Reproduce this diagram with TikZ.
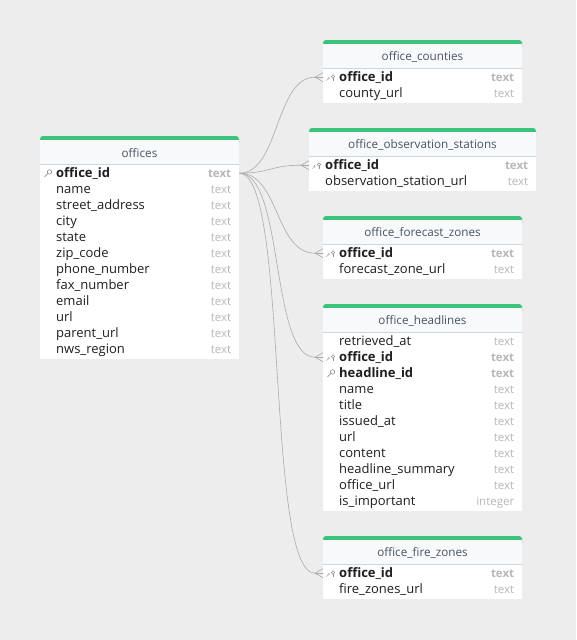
\documentclass[tikz,border=0pt]{standalone}
\usepackage{fontspec}
\setmainfont{Open Sans}
\usetikzlibrary{calc}

\definecolor{canvas}{HTML}{EDEDED}
\definecolor{ergreen}{HTML}{3DC27A}
\definecolor{erhdr}{HTML}{F7F9FB}
\definecolor{ersepc}{HTML}{C8D5E2}
\definecolor{titlec}{HTML}{4A5562}
\definecolor{namec}{HTML}{1F1F1F}
\definecolor{typec}{HTML}{B8B8B8}
\definecolor{linec}{HTML}{ABABAB}
\definecolor{iconc}{HTML}{8F8F8F}

\tikzset{
  erhead/.style={inner sep=0, text=titlec, font=\fontsize{11.7}{14}\selectfont},
  ername/.style={anchor=west, inner sep=0, text height=9pt, text depth=3pt, text=namec, font=\fontsize{13}{15}\selectfont},
  ertype/.style={anchor=east, inner sep=0, text height=9pt, text depth=3pt, text=typec, font=\fontsize{11.5}{13}\selectfont},
  ercell/.style={minimum height=16pt, inner sep=0, anchor=north west},
  pk/.style={font=\fontsize{13}{15}\selectfont\bfseries},
  fk/.style={font=\fontsize{13}{15}\selectfont\bfseries},
  pl/.style={},
  pkt/.style={font=\fontsize{11.5}{13}\selectfont\bfseries},
  fkt/.style={font=\fontsize{11.5}{13}\selectfont\bfseries},
  plt/.style={},
  conn/.style={draw=linec, line width=0.6pt},
  icon/.style={draw=iconc, line width=0.6pt},
  iconlight/.style={draw=typec, line width=0.5pt},
}

% table frame: id, left x, top y, width, number of rows, title
\newcommand{\ertable}[6]{%
  \def\erx{#2}\def\ertop{#3}\def\erw{#4}%
  \pgfmathsetmacro\erbot{#3+31+16*#5}%
  \fill[ergreen, rounded corners=3pt] (#2,#3) rectangle (#2+#4,#3+10);
  \fill[erhdr] (#2,#3+4) rectangle (#2+#4,#3+28);
  \fill[white] (#2,#3+28) rectangle (#2+#4,\erbot);
  \draw[ersepc, line width=0.8pt] (#2,#3+28) -- (#2+#4,#3+28);
  \node[erhead] (#1) at (#2+#4/2,#3+17) {#6};
}

% key icons
\newcommand{\ericonpk}[1]{%
  \draw[icon] ($(#1.west)+(9.5,-0.3)$) circle (2.2pt);
  \draw[icon] ($(#1.west)+(8,1.2)$) -- ($(#1.west)+(4.5,4.7)$);
}
\newcommand{\ericonfk}[1]{%
  \draw[iconlight] ($(#1.west)+(5.6,2.1)$) circle (0.9pt);
  \draw[iconlight] ($(#1.west)+(4.9,2.8)$) -- ($(#1.west)+(3.2,4.5)$);
  \draw[icon] ($(#1.west)+(10,0.3)$) circle (1.7pt);
  \draw[icon] ($(#1.west)+(10,2)$) -- ($(#1.west)+(10,4.7)$);
}
\newcommand{\ericonpl}[1]{}

% row: table id, index, name, type, kind (pk, fk, pl)
\newcommand{\errow}[5]{%
  \node[ercell, minimum width=\erw pt] (#1-#2) at (\erx,{\ertop+28+16*(#2-1)}) {};
  \node[ername, #5] (#1-#2-n) at ($(#1-#2.west)+(16,2)$) {#3};
  \node[ertype, #5t] (#1-#2-t) at ($(#1-#2.east)+(-8,2)$) {#4};
  \csname ericon#5\endcsname{#1-#2}
}

% connector from parent row to child row, crow's foot at the child
\newcommand{\erlink}[3]{%
  \coordinate (#2-cf) at ($(#2.west)+(-8,1)$);
  \draw[conn] ($(#1.east)+(0,1)$) .. controls ($(#1.east)+(#3,1)$) and ($(#2-cf)+(-#3,0)$) .. (#2-cf);
  \draw[conn] ($(#2.west)+(0,-3.5)$) -- (#2-cf) -- ($(#2.west)+(0,5.5)$);
  \draw[conn] (#2-cf) -- ($(#2.west)+(0,1)$);
}

\begin{document}
\begin{tikzpicture}[x=1pt, y=-1pt]
  \fill[canvas] (0,0) rectangle (576,640);
  \useasboundingbox (0,0) rectangle (576,640);

  % offices
  \ertable{off}{40}{136}{199}{12}{offices}
  \errow{off}{1}{office\_id}{text}{pk}
  \errow{off}{2}{name}{text}{pl}
  \errow{off}{3}{street\_address}{text}{pl}
  \errow{off}{4}{city}{text}{pl}
  \errow{off}{5}{state}{text}{pl}
  \errow{off}{6}{zip\_code}{text}{pl}
  \errow{off}{7}{phone\_number}{text}{pl}
  \errow{off}{8}{fax\_number}{text}{pl}
  \errow{off}{9}{email}{text}{pl}
  \errow{off}{10}{url}{text}{pl}
  \errow{off}{11}{parent\_url}{text}{pl}
  \errow{off}{12}{nws\_region}{text}{pl}

  % office_counties
  \ertable{cty}{323}{40}{199}{2}{office\_counties}
  \errow{cty}{1}{office\_id}{text}{fk}
  \errow{cty}{2}{county\_url}{text}{pl}

  % office_observation_stations
  \ertable{obs}{309}{128}{227}{2}{office\_observation\_stations}
  \errow{obs}{1}{office\_id}{text}{fk}
  \errow{obs}{2}{observation\_station\_url}{text}{pl}

  % office_forecast_zones
  \ertable{fcz}{323}{216}{199}{2}{office\_forecast\_zones}
  \errow{fcz}{1}{office\_id}{text}{fk}
  \errow{fcz}{2}{forecast\_zone\_url}{text}{pl}

  % office_headlines
  \ertable{hdl}{323}{304}{199}{11}{office\_headlines}
  \errow{hdl}{1}{retrieved\_at}{text}{pl}
  \errow{hdl}{2}{office\_id}{text}{fk}
  \errow{hdl}{3}{headline\_id}{text}{pk}
  \errow{hdl}{4}{name}{text}{pl}
  \errow{hdl}{5}{title}{text}{pl}
  \errow{hdl}{6}{issued\_at}{text}{pl}
  \errow{hdl}{7}{url}{text}{pl}
  \errow{hdl}{8}{content}{text}{pl}
  \errow{hdl}{9}{headline\_summary}{text}{pl}
  \errow{hdl}{10}{office\_url}{text}{pl}
  \errow{hdl}{11}{is\_important}{integer}{pl}

  % office_fire_zones
  \ertable{fir}{323}{536}{199}{2}{office\_fire\_zones}
  \errow{fir}{1}{office\_id}{text}{fk}
  \errow{fir}{2}{fire\_zones\_url}{text}{pl}

  % relationships
  \erlink{off-1}{cty-1}{40}
  \erlink{off-1}{obs-1}{30}
  \erlink{off-1}{fcz-1}{40}
  \erlink{off-1}{hdl-2}{45}
  \erlink{off-1}{fir-1}{50}
\end{tikzpicture}
\end{document}
